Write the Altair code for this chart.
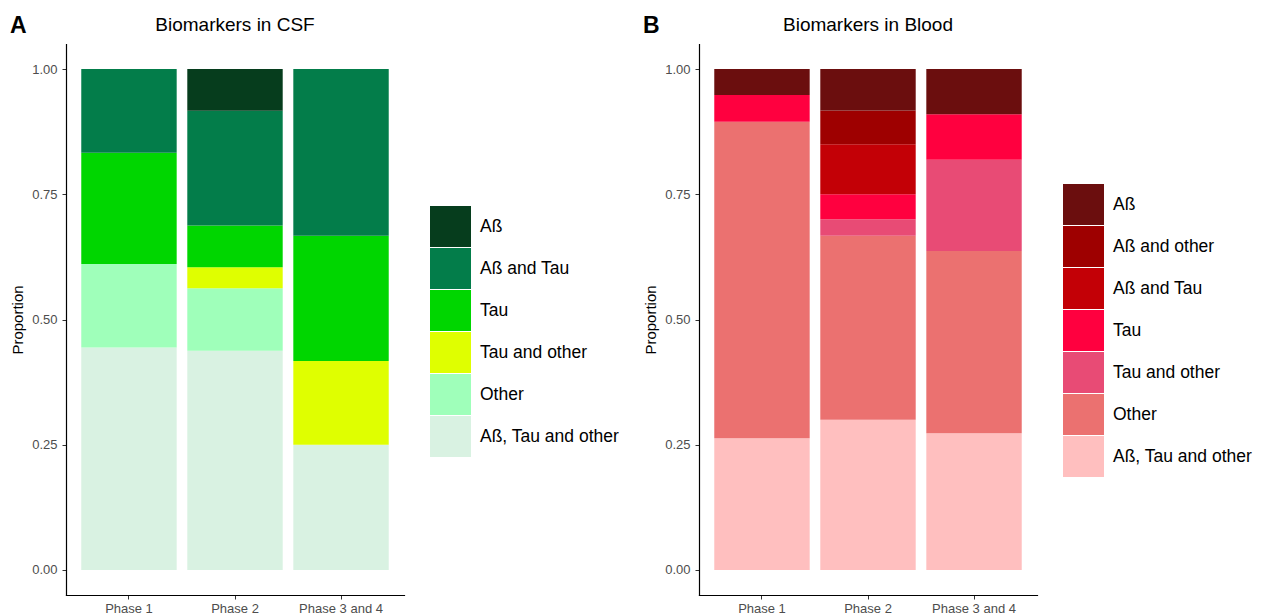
import altair as alt
import pandas as pd

phases = ["Phase 1", "Phase 2", "Phase 3 and 4"]

# CSF categories, bottom of stack to top
csf_categories = ["Aß, Tau and other", "Other", "Tau and other", "Tau", "Aß and Tau", "Aß"]
csf_phase1 = [0.444, 0.167, 0.0, 0.222, 0.167, 0.0]
csf_phase2 = [0.4375, 0.125, 0.042, 0.083, 0.229, 0.0835]
csf_phase34 = [0.25, 0.0, 0.167, 0.25, 0.333, 0.0]
csf_legend = ["Aß", "Aß and Tau", "Tau", "Tau and other", "Other", "Aß, Tau and other"]
csf_colors = ["#063d1d", "#037d4a", "#00d600", "#dfff00", "#9fffba", "#d9f2e2"]

# Blood categories, bottom of stack to top
blood_categories = ["Aß, Tau and other", "Other", "Tau and other", "Tau", "Aß and Tau", "Aß and other", "Aß"]
blood_phase1 = [0.263, 0.632, 0.0, 0.053, 0.0, 0.0, 0.052]
blood_phase2 = [0.30, 0.367, 0.033, 0.05, 0.10, 0.067, 0.083]
blood_phase34 = [0.273, 0.364, 0.182, 0.091, 0.0, 0.0, 0.09]
blood_legend = ["Aß", "Aß and other", "Aß and Tau", "Tau", "Tau and other", "Other", "Aß, Tau and other"]
blood_colors = ["#6b0e0e", "#9e0000", "#c30006", "#ff003f", "#e84b75", "#eb7170", "#ffbfbf"]

y_ticks = [0, 0.25, 0.5, 0.75, 1.0]

FONT = "Liberation Sans"
W, H = 338, 551


def make_df(categories, series):
    rows = []
    for ph, vals in zip(phases, series):
        for i, (c, v) in enumerate(zip(categories, vals)):
            rows.append({"phase": ph, "cat": c, "value": v, "ord": i})
    return pd.DataFrame(rows)


def panel(letter, title, categories, series, legend_order, colors, legend_y):
    df = make_df(categories, series)
    bars = alt.Chart(df).mark_bar(strokeWidth=0).encode(
        x=alt.X("phase:N", sort=phases,
                scale=alt.Scale(paddingInner=0.1, paddingOuter=0.144),
                axis=alt.Axis(title=None, labelAngle=0, labelFontSize=13, labelColor="#4d4d4d",
                              labelFont=FONT, tickSize=4, tickColor="#333333", labelPadding=3,
                              domainColor="#000000", domainWidth=1.2)),
        y=alt.Y("value:Q", stack="zero",
                scale=alt.Scale(domain=[-0.05, 1.05], nice=False, zero=False),
                axis=alt.Axis(title="Proportion", values=y_ticks, format=".2f", grid=False,
                              labelFontSize=13, labelColor="#4d4d4d", labelFont=FONT,
                              tickSize=4, tickColor="#333333", labelPadding=5,
                              titleFontSize=15, titleFont=FONT, titleFontWeight="normal",
                              titleColor="#000000", titlePadding=6,
                              domainColor="#000000", domainWidth=1.2)),
        color=alt.Color("cat:N",
                        scale=alt.Scale(domain=legend_order, range=colors),
                        legend=alt.Legend(title=None, orient="none", legendX=364, legendY=legend_y,
                                          symbolType="square", symbolSize=1681,
                                          symbolStrokeWidth=0, symbolOpacity=1,
                                          rowPadding=1, labelFontSize=17.5, labelFont=FONT,
                                          labelColor="#000000", labelOffset=9, labelLimit=400,
                                          padding=0)),
        order=alt.Order("ord:Q", sort="ascending"),
    )
    lab = pd.DataFrame({"t": [title], "l": [letter]})
    ttl = alt.Chart(lab).mark_text(fontSize=19, font=FONT, align="center", baseline="alphabetic",
                                   color="#000000").encode(
        x=alt.value(W / 2), y=alt.value(-13), text="t:N")
    let = alt.Chart(lab).mark_text(fontSize=23, font=FONT, fontWeight="bold", align="left",
                                   baseline="alphabetic", color="#000000").encode(
        x=alt.value(-56), y=alt.value(-11), text="l:N")
    return alt.layer(bars, ttl, let).properties(width=W, height=H)


left = panel("A", "Biomarkers in CSF", csf_categories,
             [csf_phase1, csf_phase2, csf_phase34], csf_legend, csf_colors, 162)
right = panel("B", "Biomarkers in Blood", blood_categories,
              [blood_phase1, blood_phase2, blood_phase34], blood_legend, blood_colors, 140)

chart = alt.hconcat(left, right, spacing=295, bounds="flush").resolve_scale(
    color="independent", x="independent", y="independent"
).resolve_legend(color="independent").properties(
    padding={"left": 2, "top": 7, "right": 0, "bottom": 0}
).configure_view(stroke=None).configure_axis(domainCap="square")

chart.save("out.html", embed_options={"renderer": "svg", "actions": False})
